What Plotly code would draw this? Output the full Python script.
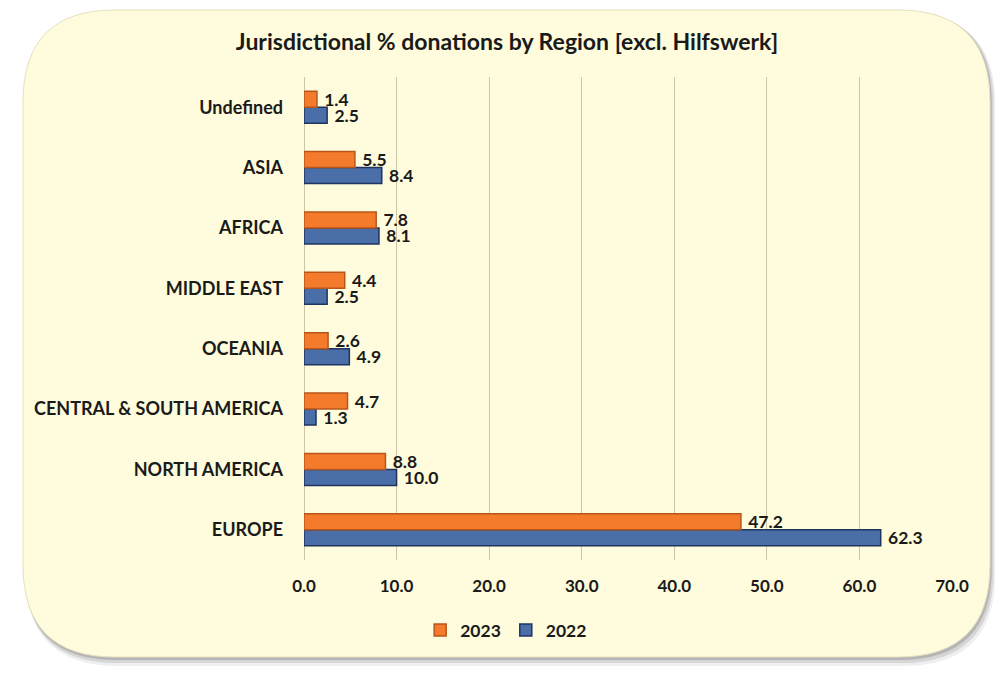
import plotly.graph_objects as go

# regions listed bottom-to-top
regions = ["EUROPE", "NORTH AMERICA", "CENTRAL & SOUTH AMERICA", "OCEANIA",
           "MIDDLE EAST", "AFRICA", "ASIA", "Undefined"]
vals_2023 = [47.2, 8.8, 4.7, 2.6, 4.4, 7.8, 5.5, 1.4]
vals_2022 = [62.3, 10.0, 1.3, 4.9, 2.5, 8.1, 8.4, 2.5]
x_ticks = [0, 10, 20, 30, 40, 50, 60, 70]

# page body has an 8px margin, so the figure is a bit smaller than the window
W, H = 995, 673
ML, MR, MT, MB = 296, 51, 69, 121
PW, PH = W - ML - MR, H - MT - MB

FONT = "Lato"
TXT = "#1a1a1a"


def px2paper(x, y):
    return (x - ML) / PW, (H - MB - y) / PH


def rounded_rect(x0, y0, x1, y1, r):
    # path in paper coords for a rounded box given in pixel coords
    def p(x, y):
        a, b = px2paper(x, y)
        return f"{a:.5f},{b:.5f}"
    pts = [
        "M" + p(x0 + r, y0),
        "L" + p(x1 - r, y0),
        "Q" + p(x1, y0) + " " + p(x1, y0 + r),
        "L" + p(x1, y1 - r),
        "Q" + p(x1, y1) + " " + p(x1 - r, y1),
        "L" + p(x0 + r, y1),
        "Q" + p(x0, y1) + " " + p(x0, y1 - r),
        "L" + p(x0, y0 + r),
        "Q" + p(x0, y0) + " " + p(x0 + r, y0),
    ]
    return " ".join(pts) + " Z"


fig = go.Figure()

label_font = dict(family=FONT, size=17.5, color=TXT, weight="bold")

fig.add_trace(go.Bar(
    y=regions, x=vals_2022, name="2022", orientation="h",
    marker=dict(color="#4a6ea8", line=dict(color="#1f3560", width=1.5)),
    text=vals_2022, texttemplate=" %{x:.1f}", textposition="outside",
    textfont=label_font, constraintext="none", cliponaxis=False,
))
fig.add_trace(go.Bar(
    y=regions, x=vals_2023, name="2023", orientation="h",
    marker=dict(color="#f47a2c", line=dict(color="#b8561a", width=1.5)),
    text=vals_2023, texttemplate=" %{x:.1f}", textposition="outside",
    textfont=label_font, constraintext="none", cliponaxis=False,
))

shapes = []
# soft shadow layers
for off, col in [(9, "rgba(150,150,150,0.15)"), (6, "rgba(140,140,140,0.25)"),
                 (3, "rgba(120,120,120,0.35)")]:
    shapes.append(dict(type="path", xref="paper", yref="paper", layer="below",
                       path=rounded_rect(15 + off * 0.3, 2 + off * 0.3, 982 + off * 0.6, 649 + off, 92),
                       fillcolor=col, line=dict(width=0)))
shapes.append(dict(type="path", xref="paper", yref="paper", layer="below",
                   path=rounded_rect(15, 2, 982, 649, 92),
                   fillcolor="#fefcdc", line=dict(color="#e6e0c0", width=1)))

fig.update_layout(
    width=W, height=H,
    margin=dict(l=ML, r=MR, t=MT, b=MB),
    paper_bgcolor="white",
    plot_bgcolor="rgba(0,0,0,0)",
    barmode="group",
    bargap=0.47,
    bargroupgap=0.0,
    shapes=shapes,
    title=dict(text="Jurisdictional % donations by Region [excl. Hilfswerk]",
               x=499 / W, xanchor="center", y=1 - 34 / H, yanchor="middle",
               font=dict(family=FONT, size=23, color=TXT, weight="bold")),
    font=dict(family=FONT, color=TXT),
    xaxis=dict(range=[0, 70], tickvals=x_ticks, tickformat=".1f",
               showgrid=True, gridcolor="#cfc6a6", gridwidth=1.2,
               zeroline=True, zerolinecolor="#cfc6a6", zerolinewidth=1.2,
               showline=False, ticks="", ticklabelstandoff=14,
               tickfont=dict(family=FONT, size=17, color=TXT, weight="bold")),
    yaxis=dict(showgrid=False, showline=False, ticks="", ticklabelstandoff=20,
               tickfont=dict(family=FONT, size=18, color=TXT, weight="bold")),
    legend=dict(orientation="h", x=0.312, xanchor="center", y=(H - MB - 622) / PH,
                yanchor="middle", traceorder="reversed",
                font=dict(family=FONT, size=17.5, color=TXT, weight="bold"),
                bgcolor="rgba(0,0,0,0)", itemwidth=30),
    showlegend=True,
)

fig.write_html("out.html")
